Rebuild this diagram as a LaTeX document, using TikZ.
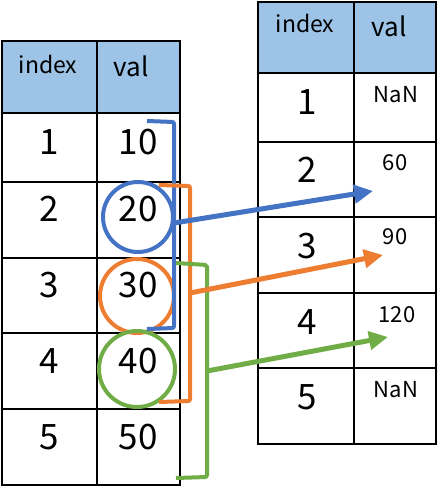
\documentclass[tikz,border=0pt]{standalone}
\usepackage{fontspec}
\setmainfont{Noto Sans CJK JP}
\usetikzlibrary{arrows.meta}
\definecolor{hdr}{HTML}{9DC3E6}
\definecolor{cblue}{HTML}{4472C4}
\definecolor{corange}{HTML}{ED7D31}
\definecolor{cgreen}{HTML}{70AD47}
\begin{document}
\begin{tikzpicture}[x=1pt,y=-1pt,
  grid/.style={line width=2pt,black},
  big/.style={inner sep=0pt,font=\fontsize{35}{35}\selectfont},
  hd/.style={inner sep=0pt,font=\fontsize{23}{23}\selectfont},
  hdv/.style={inner sep=0pt,font=\fontsize{26}{26}\selectfont},
  small/.style={inner sep=0pt,font=\fontsize{22}{22}\selectfont},
  ring/.style={circle,draw,line width=4pt,inner sep=0pt},
  brk/.style={line width=4pt,rounded corners=2pt},
  arr/.style={line width=5pt,-{Triangle[length=19pt,width=18pt]}}]
\useasboundingbox (0,0) rectangle (440,487);
% left table
\fill[hdr] (2,41) rectangle (180,113);
\draw[grid] (2,41) rectangle (180,485);
\draw[grid] (97,41) -- (97,485);
\foreach \y in {113,182,258,333,409} \draw[grid] (2,\y) -- (180,\y);
% right table
\fill[hdr] (258,2) rectangle (436,73);
\draw[grid] (258,2) rectangle (436,444);
\draw[grid] (354,2) -- (354,444);
\foreach \y in {73,142,217,293,368} \draw[grid] (258,\y) -- (436,\y);
% left texts
\node[hd] (lhi) at (48,64) {index};
\node[hdv] (lhv) at (131,66) {val};
\node[big] (li1) at (49,142) {1};
\node[big] (li2) at (49,209) {2};
\node[big] (li3) at (49,285) {3};
\node[big] (li4) at (49,361) {4};
\node[big] (li5) at (49,437) {5};
\node[big] (lv1) at (138,142) {10};
\node[big] (lv2) at (138,209) {20};
\node[big] (lv3) at (138,285) {30};
\node[big] (lv4) at (138,361) {40};
\node[big] (lv5) at (138,437) {50};
% right texts
\node[hd] (rhi) at (305,23) {index};
\node[hdv] (rhv) at (389,26) {val};
\node[big] (ri1) at (307,102) {1};
\node[big] (ri2) at (307,170) {2};
\node[big] (ri3) at (307,246) {3};
\node[big] (ri4) at (307,322) {4};
\node[big] (ri5) at (307,397) {5};
\node[small] (rv1) at (396,95) {NaN};
\node[small] (rv2) at (395,163) {60};
\node[small] (rv3) at (395,237) {90};
\node[small] (rv4) at (397,315) {120};
\node[small] (rv5) at (396,390) {NaN};
% circles
\node[ring,draw=cblue,minimum size=70pt] (c2) at (138,217) {};
\node[ring,draw=corange,minimum size=74pt] (c3) at (137,296) {};
\node[ring,draw=cgreen,minimum size=76pt] (c4) at (137,369) {};
% brackets
\draw[brk,cblue] (147,121) -- (174,122) -- (174,328) -- (147,329);
\draw[brk,corange] (159,185) -- (190,186) -- (190,401) -- (159,402);
\draw[brk,cgreen] (176,263) -- (207,265) -- (207,477) -- (176,478);
% arrows
\coordinate (bs) at (174,223);
\coordinate (os) at (190,293);
\coordinate (gs) at (207,371);
\coordinate (bt) at (373,191);
\coordinate (ot) at (383,255);
\coordinate (gt) at (388,337);
\draw[arr,cblue] (bs) -- (bt);
\draw[arr,corange] (os) -- (ot);
\draw[arr,cgreen] (gs) -- (gt);
\end{tikzpicture}
\end{document}
